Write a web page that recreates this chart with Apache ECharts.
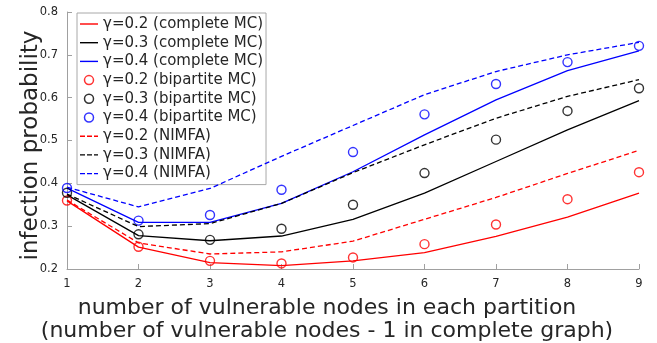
<!DOCTYPE html>
<html>
<head>
<meta charset="utf-8">
<script src="https://cdn.jsdelivr.net/npm/echarts@6/dist/echarts.min.js"></script>
<style>
html,body{margin:0;padding:0;background:#fff;}
#chart{width:657px;height:343px;}
</style>
</head>
<body>
<div id="chart"></div>
<script>
// ---- data ----
const xValues = [1, 2, 3, 4, 5, 6, 7, 8, 9];

const completeMC02 = [0.359, 0.251, 0.215, 0.208, 0.219, 0.238, 0.276, 0.321, 0.377];
const completeMC03 = [0.373, 0.278, 0.266, 0.277, 0.316, 0.377, 0.451, 0.525, 0.593];
const completeMC04 = [0.389, 0.309, 0.309, 0.353, 0.427, 0.513, 0.595, 0.663, 0.709];

const bipartiteMC02 = [0.360, 0.252, 0.219, 0.213, 0.227, 0.258, 0.304, 0.363, 0.426];
const bipartiteMC03 = [0.378, 0.281, 0.268, 0.294, 0.350, 0.424, 0.502, 0.569, 0.622];
const bipartiteMC04 = [0.389, 0.313, 0.326, 0.385, 0.473, 0.561, 0.632, 0.683, 0.721];

const nimfa02 = [0.361, 0.261, 0.235, 0.240, 0.265, 0.316, 0.367, 0.423, 0.477];
const nimfa03 = [0.375, 0.299, 0.306, 0.353, 0.425, 0.490, 0.552, 0.603, 0.642];
const nimfa04 = [0.391, 0.345, 0.388, 0.463, 0.535, 0.607, 0.661, 0.700, 0.729];

const seriesNames = [
  'γ=0.2 (complete MC)', 'γ=0.3 (complete MC)', 'γ=0.4 (complete MC)',
  'γ=0.2 (bipartite MC)', 'γ=0.3 (bipartite MC)', 'γ=0.4 (bipartite MC)',
  'γ=0.2 (NIMFA)', 'γ=0.3 (NIMFA)', 'γ=0.4 (NIMFA)'
];
const xAxisTitle = 'number of vulnerable nodes in each partition\n(number of vulnerable nodes - 1 in complete graph)';
const yAxisTitle = 'infection probability';

// ---- build ----
const RED = '#ff0000', BLACK = '#000000', BLUE = '#0000ff';
const FONT = 'DejaVu Sans';
const pairs = arr => arr.map((v, i) => [xValues[i], v]);

function lineSeries(name, arr, color, dashed) {
  return {
    name, type: 'line', data: pairs(arr), showSymbol: false, symbol: 'none',
    lineStyle: { color, width: 1.3, type: dashed ? [5, 3] : 'solid' },
    itemStyle: { color }, animation: false, z: dashed ? 4 : 2
  };
}
function circleSeries(name, arr, color) {
  return {
    name, type: 'scatter', data: pairs(arr), symbol: 'circle', symbolSize: 9,
    itemStyle: { color: 'rgba(0,0,0,0)', borderColor: color, borderWidth: 1.4 },
    animation: false, z: 3
  };
}

const solidIcon = 'path://M0,0h18v1.4h-18z';
const dashIcon = 'path://M0,0h5v1.4h-5zM7,0h5v1.4h-5zM14,0h4v1.4h-4z';
const colors = [RED, BLACK, BLUE];

const legendData = seriesNames.map((n, i) => {
  const c = colors[i % 3];
  if (i < 3) return { name: n, icon: solidIcon, itemStyle: { color: c, borderWidth: 0 } };
  if (i < 6) return { name: n, icon: 'circle', itemStyle: { color: '#fff', borderColor: c, borderWidth: 1.5 } };
  return { name: n, icon: dashIcon, itemStyle: { color: c, borderWidth: 0 } };
});

const option = {
  backgroundColor: '#fff',
  animation: false,
  textStyle: { fontFamily: FONT },
  grid: { left: 67, right: 18, top: 12, bottom: 74, containLabel: false, outerBoundsMode: 'none' },
  legend: {
    orient: 'vertical', left: 77, top: 13,
    padding: [3, 3, 3, 3],
    itemWidth: 18, itemHeight: 9, itemGap: 2.7,
    backgroundColor: '#fff', borderColor: '#a8a8a8', borderWidth: 1,
    textStyle: { fontFamily: FONT, fontSize: 15, color: '#262626', lineHeight: 16 },
    data: legendData
  },
  xAxis: {
    type: 'value', min: 1, max: 9, interval: 1,
    name: xAxisTitle, nameLocation: 'middle', nameGap: 28.5, nameMoveOverlap: false,
    nameTextStyle: { fontFamily: FONT, fontSize: 22, color: '#262626', lineHeight: 22.5, padding: [0, 52, 0, 0] },
    axisLine: { show: true, onZero: false, lineStyle: { color: '#a0a0a0', width: 1 } },
    axisTick: { show: true, inside: true, length: 5, lineStyle: { color: '#a0a0a0' } },
    axisLabel: { fontFamily: FONT, fontSize: 11.5, color: '#262626', margin: 9 },
    splitLine: { show: false }
  },
  yAxis: {
    type: 'value', min: 0.2, max: 0.8, interval: 0.1,
    name: yAxisTitle, nameLocation: 'middle', nameGap: 24, nameMoveOverlap: false,
    nameTextStyle: { fontFamily: FONT, fontSize: 23, color: '#262626', padding: [0, 10, 0, 0] },
    axisLine: { show: true, lineStyle: { color: '#a0a0a0', width: 1 } },
    axisTick: { show: true, inside: true, length: 5, lineStyle: { color: '#a0a0a0' } },
    axisLabel: { fontFamily: FONT, fontSize: 11.5, color: '#262626', margin: 9,
      formatter: v => v.toFixed(1) },
    splitLine: { show: false }
  },
  series: [
    lineSeries(seriesNames[0], completeMC02, RED, false),
    lineSeries(seriesNames[1], completeMC03, BLACK, false),
    lineSeries(seriesNames[2], completeMC04, BLUE, false),
    circleSeries(seriesNames[3], bipartiteMC02, RED),
    circleSeries(seriesNames[4], bipartiteMC03, BLACK),
    circleSeries(seriesNames[5], bipartiteMC04, BLUE),
    lineSeries(seriesNames[6], nimfa02, RED, true),
    lineSeries(seriesNames[7], nimfa03, BLACK, true),
    lineSeries(seriesNames[8], nimfa04, BLUE, true)
  ]
};

const chart = echarts.init(document.getElementById('chart'), null, { renderer: 'canvas' });
chart.setOption(option);
</script>
</body>
</html>
